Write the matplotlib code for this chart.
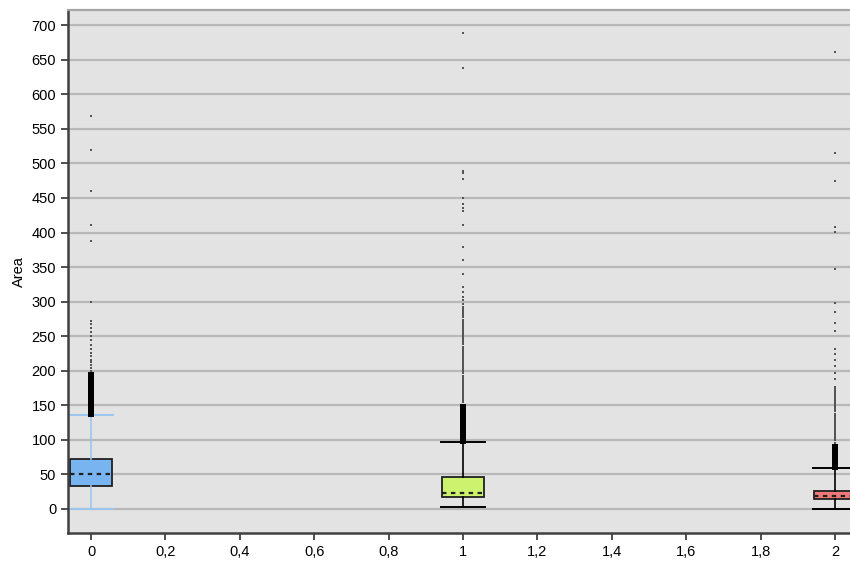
import numpy as np
import matplotlib.pyplot as plt

plt.rcParams['font.family'] = ['Liberation Sans', 'DejaVu Sans']

positions = [0, 1, 2]
q1 = [33, 17, 14]
med = [51, 23, 19]
q3 = [72, 46, 26]
whislo = [0, 2, 0]
whishi = [136, 97, 59]
box_colors = ['#78b4f0', '#ccf26e', '#f07878']
whisker_colors = ['#9cc6f0', 'black', 'black']

# dense outlier runs (drawn as a thick black bar in the original)
dense0 = [138, 140, 142, 144, 146, 148, 150, 152, 154, 156, 158, 160, 162, 164, 166,
          168, 170, 172, 174, 176, 178, 180, 182, 184, 186, 188, 190, 192, 194]
dense1 = [98, 100, 102, 104, 106, 108, 110, 112, 114, 116, 118, 120, 122, 124, 126,
          128, 130, 132, 134, 136, 138, 140, 142, 144, 146, 148]
dense2 = [60, 62, 64, 66, 68, 70, 72, 74, 76, 78, 80, 82, 84, 86, 88, 90]

# sparse outliers
sparse0 = [197, 200, 204, 208, 212, 216, 221, 226, 231, 237, 244, 250, 256, 262,
           267, 272, 300, 388, 411, 460, 520, 569]
sparse1 = [151, 154, 157, 160, 163, 166, 169, 172, 175, 178, 181, 184, 187, 190,
           193, 196, 199, 202, 205, 208, 211, 214, 217, 220, 223, 226, 229, 232,
           235, 238, 241, 244, 247, 250, 253, 256, 259, 262, 265, 268, 271, 274,
           277, 280, 283, 286, 289, 292, 297, 303, 307, 314, 321, 340, 360, 379,
           411, 431, 435, 441, 450, 477, 486, 489, 638, 689]
sparse2 = [93, 96, 99, 102, 105, 108, 111, 114, 117, 120, 123, 126, 129, 132, 135,
           138, 141, 144, 147, 150, 153, 156, 159, 162, 165, 168, 171, 174, 177,
           188, 197, 207, 216, 224, 232, 258, 269, 285, 298, 347, 401, 408, 475,
           515, 661]

dense = [dense0, dense1, dense2]
sparse = [sparse0, sparse1, sparse2]

fig = plt.figure(figsize=(8.5, 5.62), dpi=100)
ax = fig.add_axes([0.08, 0.0516, 0.92, 0.9304])
ax.set_facecolor('#e3e3e3')

ax.set_yticks(np.arange(0, 701, 50))
ax.grid(axis='y', color='#b8b8b8', linewidth=1.6)
ax.set_axisbelow(True)

for i, p in enumerate(positions):
    stats = [dict(q1=q1[i], med=med[i], q3=q3[i], whislo=whislo[i], whishi=whishi[i],
                  fliers=[])]
    ax.bxp(stats, positions=[p], widths=0.115, patch_artist=True, showfliers=False,
           boxprops=dict(facecolor=box_colors[i], edgecolor='#202020', linewidth=1.3),
           medianprops=dict(color='#202020', linestyle=(0, (2, 2)), linewidth=1.6),
           whiskerprops=dict(color=whisker_colors[i], linewidth=1.2),
           capprops=dict(color=whisker_colors[i], linewidth=1.4),
           capwidths=0.12, manage_ticks=False)
    ax.plot(np.full(len(sparse[i]), p), sparse[i], linestyle='none', marker='s',
            markersize=1.9, color='#555555', markeredgewidth=0, zorder=4)
    ax.plot(np.full(len(dense[i]), p), dense[i], linestyle='none', marker='s',
            markersize=3.8, color='black', markeredgewidth=0, zorder=5)

ax.set_xlim(-0.062, 2.04)
ax.set_ylim(-35, 722)
ax.set_xticks(np.arange(0, 2.01, 0.2))
ax.set_xticklabels(['0', '0,2', '0,4', '0,6', '0,8', '1', '1,2', '1,4', '1,6', '1,8', '2'])
ax.set_ylabel('Area', fontsize=10.5, labelpad=4)
ax.tick_params(labelsize=10.5, color='#404040', length=5, width=1.3)

for s in ['left', 'bottom']:
    ax.spines[s].set_color('#404040')
    ax.spines[s].set_linewidth(1.8)
ax.spines['top'].set_color('#a5a5a5')
ax.spines['top'].set_linewidth(1.6)
ax.spines['right'].set_visible(False)

fig.savefig('out.png', dpi=100)
